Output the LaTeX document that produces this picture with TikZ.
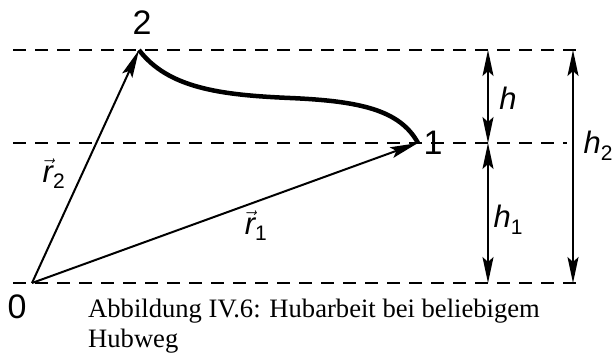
\documentclass[tikz,border=0pt]{standalone}
\usepackage{fontspec}
\setmainfont{Liberation Serif}
\newfontfamily\labelfont{Liberation Sans}
\usetikzlibrary{arrows.meta}

\newcommand{\vecname}[2]{\(\vec{\mbox{\itshape #1}}_{\mbox{\fontsize{21}{21}\selectfont\upshape #2}}\)}
\newcommand{\hname}[1]{\itshape h\raisebox{-7pt}{\fontsize{21}{21}\selectfont\upshape #1}}

\begin{document}
\begin{tikzpicture}[x=1pt, y=-1pt,
  guide/.style={dash pattern=on 13pt off 9pt, line width=1.8pt},
  vecline/.style={-{Stealth[length=28pt, width=11pt, inset=5pt]}, line width=2pt},
  dimline/.style={{Stealth[length=26pt, width=11pt, inset=5pt]}-{Stealth[length=26pt, width=11pt, inset=5pt]}, line width=1.7pt},
  pathline/.style={line width=4.5pt},
  ptlabel/.style={font=\fontsize{34}{34}\labelfont, inner sep=0pt},
  hlabel/.style={font=\fontsize{31}{31}\labelfont, inner sep=0pt}
]
  \useasboundingbox (0,0) rectangle (616,353);

  % points of the path
  \coordinate (P0) at (32,283);
  \coordinate (P1) at (418,143);
  \coordinate (P2) at (139,50);
  \coordinate (bend) at (290,98);

  % guide lines
  \coordinate (top-l) at (13,50);   \coordinate (top-r) at (578,50);
  \coordinate (mid-l) at (13,143);  \coordinate (mid-r) at (567,143);
  \coordinate (bot-l) at (13,283);  \coordinate (bot-r) at (578,283);
  \draw[guide] (top-l) -- (top-r);
  \draw[guide] (mid-l) -- (mid-r);
  \draw[guide] (bot-l) -- (bot-r);

  % heights
  \coordinate (h-top) at (488,50);
  \coordinate (h-mid) at (488,143);
  \coordinate (h-bot) at (488,283);
  \coordinate (htwo-top) at (573,50);
  \coordinate (htwo-bot) at (573,283);
  \draw[dimline] (h-top) -- (h-mid);
  \draw[dimline] (h-mid) -- (h-bot);
  \draw[dimline] (htwo-top) -- (htwo-bot);

  % vectors and path
  \draw[vecline] (P0) -- (P2);
  \draw[vecline] (P0) -- (P1);
  \draw[pathline] (P2) .. controls (168,88) and (220,95) .. (bend)
                       .. controls (360,101) and (400,110) .. (P1);

  \node[ptlabel] (lab0) at (17,307) {0};
  \node[ptlabel] (lab1) at (433,143) {1};
  \node[ptlabel] (lab2) at (142,23) {2};
  \node[hlabel] (labh)  at (508,98) {\itshape h};
  \node[hlabel] (labh1) at (508,220) {\hname{1}};
  \node[hlabel] (labh2) at (598,146) {\hname{2}};
  \node[hlabel] (labr1) at (256,226) {\vecname{r}{1}};
  \node[hlabel] (labr2) at (54,174) {\vecname{r}{2}};

  \node[anchor=north west, inner sep=0pt, align=left,
        font=\fontsize{26.6}{30}\selectfont] (caption) at (88,299)
    {Abbildung IV.6: Hubarbeit bei beliebigem\\Hubweg};
\end{tikzpicture}
\end{document}
